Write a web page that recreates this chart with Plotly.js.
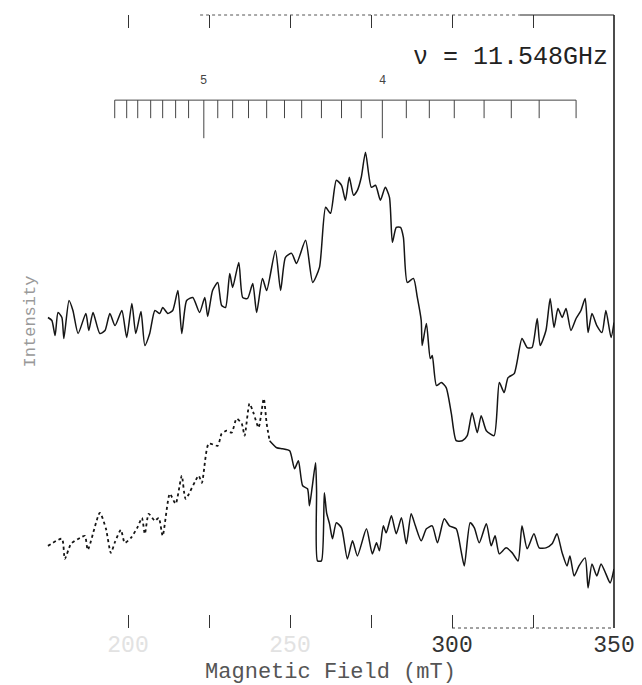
<!DOCTYPE html>
<html>
<head>
<meta charset="utf-8">
<script src="https://cdn.plot.ly/plotly-3.0.1.min.js"></script>
<style>html,body{margin:0;padding:0;background:#fff;}#chart{width:642px;height:685px;}</style>
</head>
<body>
<div id="chart"></div>
<script>
// ---- data (field in mT, signal in arbitrary units) ----
const fieldUpper = [175.3,176.5,177.5,178.4,179.6,180.2,181.8,183.0,184.6,187.0,187.9,189.2,191.3,192.9,194.4,196.0,198.1,199.6,201.2,202.4,204.0,205.2,206.7,208.3,209.8,210.7,212.3,213.8,215.4,216.6,218.1,220.0,222.1,223.7,224.6,226.1,227.7,228.9,230.1,231.4,232.3,234.2,235.4,236.9,238.5,239.7,241.5,242.8,245.5,247.1,248.6,250.5,252.0,254.8,257.0,259.1,261.0,262.5,264.3,265.9,267.1,268.3,269.6,270.8,272.0,273.3,275.1,276.4,277.9,279.4,280.7,281.6,282.8,284.1,285.0,286.2,288.1,289.3,290.5,290.8,292.1,293.3,293.9,295.2,296.7,298.2,299.8,301.3,303.2,304.7,306.2,307.8,309.0,310.6,313.0,314.6,316.1,317.3,319.2,321.6,323.2,324.7,326.3,327.2,329.0,330.3,331.5,332.7,334.0,335.2,336.7,338.3,339.8,341.1,342.0,343.2,344.7,346.3,347.5,349.1,350.0];
const signalUpper = [31.0,30.7,29.2,31.5,31.0,28.9,32.7,31.7,29.4,31.4,29.7,31.5,29.4,29.7,31.4,30.2,31.7,29.0,32.4,29.4,31.6,28.2,29.4,31.7,31.4,32.0,31.4,31.7,33.7,29.4,32.7,33.0,31.5,33.0,31.1,33.7,34.5,32.2,32.0,35.4,34.0,36.5,33.0,32.9,34.4,31.5,34.9,33.7,37.7,33.7,37.0,37.4,36.4,38.7,34.5,36.0,42.0,41.4,44.7,44.2,42.7,45.0,43.2,43.7,45.0,47.5,44.0,44.2,42.7,44.0,43.0,38.5,40.0,40.0,39.0,34.5,34.9,33.0,30.7,28.2,30.4,26.9,27.2,24.2,24.5,24.0,21.4,18.7,18.7,19.2,21.5,19.5,21.2,19.7,19.2,24.5,23.5,25.0,25.4,28.9,28.0,28.0,30.9,28.2,29.7,32.9,30.0,31.9,31.0,31.9,29.7,30.9,31.7,32.9,29.5,31.4,30.2,29.5,31.7,29.0,30.5];

const fieldLower = [175.3,179.6,180.5,182.4,185.2,186.7,187.6,191.3,193.2,194.7,196.0,197.8,199.0,200.9,203.0,204.3,205.2,206.4,208.3,209.5,210.7,212.9,214.7,216.6,217.8,221.8,222.8,224.9,227.7,228.9,230.5,232.0,233.5,235.1,236.0,237.5,238.8,240.3,241.9,242.8,243.7,245.9,247.7,249.9,251.4,252.6,253.9,255.4,256.0,256.9,257.9,258.2,258.5,259.7,260.6,261.3,262.2,263.1,264.3,265.9,267.7,269.3,270.8,273.6,275.4,276.7,277.6,278.8,279.7,281.3,282.8,284.4,285.9,287.4,288.7,290.5,292.1,293.9,295.5,297.6,299.2,301.3,302.8,303.8,305.6,306.9,308.4,310.6,312.1,313.3,314.6,316.7,318.6,320.4,321.6,323.2,325.3,326.9,329.0,330.9,332.4,334.0,335.5,336.4,337.7,339.2,341.1,342.0,343.2,344.7,346.0,347.5,348.8,350.0];
const signalLower = [8.2,8.9,6.9,8.4,9.0,9.2,7.8,11.5,9.9,7.5,8.6,9.8,8.5,9.0,10.1,11.0,9.4,11.4,10.7,11.0,9.2,13.4,12.4,15.2,12.9,15.2,14.5,18.4,18.2,19.4,19.7,19.5,20.9,20.4,19.2,22.4,21.4,20.0,22.9,20.4,18.7,18.0,17.9,17.7,15.9,16.7,14.2,13.9,12.2,14.2,16.5,13.7,6.7,6.7,13.5,11.5,10.4,8.9,10.5,10.0,6.9,8.7,7.2,9.9,7.4,8.5,7.7,10.2,9.5,11.2,9.4,11.0,8.4,11.4,10.2,8.7,9.9,10.2,8.5,10.9,10.2,9.9,7.7,6.2,10.5,10.0,8.5,10.4,8.2,9.2,7.4,8.0,7.5,6.7,10.2,7.9,9.4,8.0,8.0,8.4,9.4,7.5,6.2,7.2,5.2,6.2,7.0,4.0,6.4,5.2,6.4,5.4,4.5,5.9];

// marker ruler drawn near the top of the chart (field positions in mT)
const rulerField = [195.9,199.6,203.0,207.0,210.7,214.7,218.7,223.4,227.7,232.3,237.2,242.8,248.3,253.6,259.7,265.9,272.0,278.5,285.9,293.0,300.7,309.9,318.3,326.9,338.3];
const rulerLabelField = [223.4, 278.5];
const rulerLabelText = ['5', '4'];

const tickVals = [175,200,225,250,275,300,325,350];
const tickText = ['', '<span style="color:#e2e2e2">200</span>', '', '<span style="color:#e2e2e2">250</span>', '', '300', '', '350'];

const freqText = 'ν = 11.548GHz';
const xTitle = 'Magnetic Field (mT)';
const yTitle = 'Intensity';

// ---- build ruler geometry from the ruler positions ----
const RULER_Y = 52.7, RULER_TICK = 50.9, RULER_LONG = 48.9;
const rx = [], ry = [];
rx.push(rulerField[0], rulerField[rulerField.length - 1], null);
ry.push(RULER_Y, RULER_Y, null);
rulerField.forEach(f => {
  const long = rulerLabelField.includes(f);
  rx.push(f, f, null);
  ry.push(RULER_Y, long ? RULER_LONG : RULER_TICK, null);
});

// split lower trace: faint dotted rising part, solid remainder
const SPLIT = 243.7;
const iSplit = fieldLower.findIndex(v => v >= SPLIT);

const ink = '#151515';
const traces = [
  {x: fieldUpper, y: signalUpper, type: 'scatter', mode: 'lines',
   line: {color: ink, width: 1.5, shape: 'spline', smoothing: 0.6}, hoverinfo: 'skip'},
  {x: fieldLower.slice(0, iSplit + 1), y: signalLower.slice(0, iSplit + 1), type: 'scatter', mode: 'lines',
   line: {color: ink, width: 1.8, dash: 'dot', shape: 'spline', smoothing: 0.6}, hoverinfo: 'skip'},
  {x: fieldLower.slice(iSplit), y: signalLower.slice(iSplit), type: 'scatter', mode: 'lines',
   line: {color: ink, width: 1.5, shape: 'spline', smoothing: 0.6}, hoverinfo: 'skip'},
  {x: rx, y: ry, type: 'scatter', mode: 'lines',
   line: {color: '#444', width: 1}, hoverinfo: 'skip'}
];

const annotations = rulerLabelField.map((f, i) => ({
  x: f, y: 54.6, xref: 'x', yref: 'y', text: rulerLabelText[i], showarrow: false,
  font: {family: 'Liberation Mono', size: 12, color: '#444'}
}));
annotations.push({
  x: 0.993, xref: 'paper', xanchor: 'right', y: 57.0, yref: 'y', yanchor: 'middle',
  text: freqText, showarrow: false,
  font: {family: 'Liberation Mono', size: 25, color: '#222'}
});

const layout = {
  width: 642, height: 685,
  margin: {l: 47, r: 28, t: 15, b: 57},
  paper_bgcolor: '#fff', plot_bgcolor: '#fff',
  showlegend: false,
  xaxis: {
    range: [175, 350], tickmode: 'array', tickvals: tickVals, ticktext: tickText,
    ticks: 'inside', ticklen: 13, tickwidth: 1, tickcolor: '#333',
    mirror: 'ticks', showline: false, showgrid: false, zeroline: false,
    tickfont: {family: 'Liberation Mono', size: 23, color: '#333'},
    title: {text: xTitle, standoff: 9, font: {family: 'Liberation Mono', size: 22, color: '#555'}},
    automargin: false
  },
  yaxis: {
    range: [0, 61.2], showticklabels: false, ticks: '', showgrid: false, zeroline: false, showline: false,
    title: {text: yTitle, standoff: 6, font: {family: 'Liberation Mono', size: 17, color: '#999'}},
    automargin: false
  },
  shapes: [
    {type: 'line', xref: 'paper', yref: 'paper', x0: 1, x1: 1, y0: 0, y1: 1, line: {color: '#111', width: 1.5}},
    {type: 'line', xref: 'paper', yref: 'paper', x0: 0.27, x1: 0.834, y0: 1, y1: 1, line: {color: '#555', width: 1, dash: 'dot'}},
    {type: 'line', xref: 'paper', yref: 'paper', x0: 0.834, x1: 1, y0: 1, y1: 1, line: {color: '#222', width: 1}},
    {type: 'line', xref: 'x', yref: 'paper', x0: 300, x1: 350, y0: 0, y1: 0, line: {color: '#444', width: 1, dash: 'dot'}}
  ],
  annotations: annotations
};

Plotly.newPlot('chart', traces, layout, {staticPlot: true, displayModeBar: false});
</script>
</body>
</html>
